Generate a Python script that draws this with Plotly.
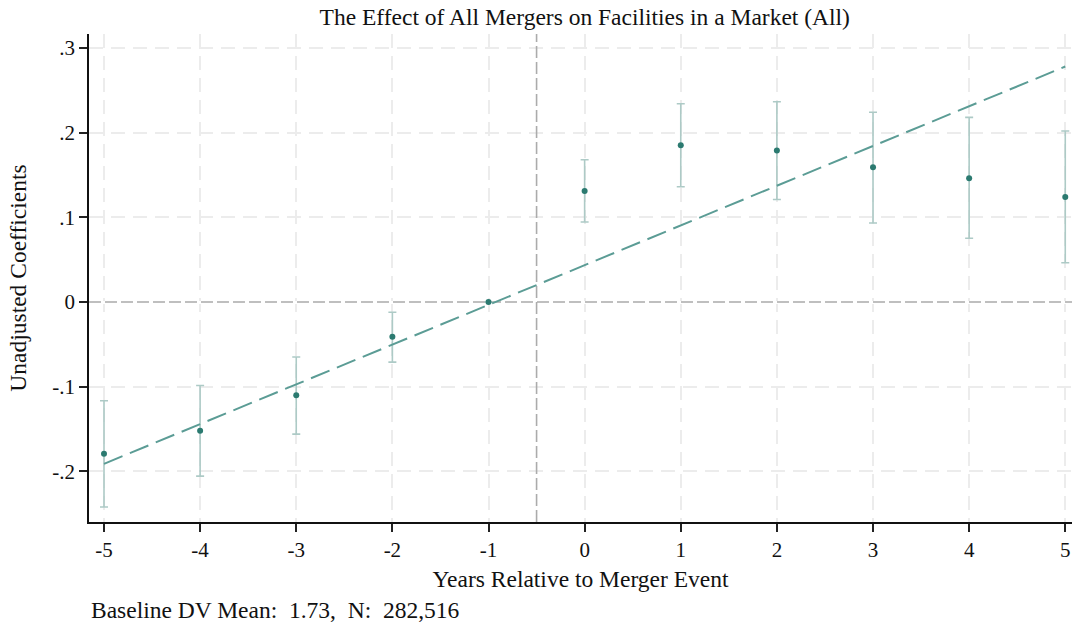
import plotly.graph_objects as go

# event-study coefficients
years = [-5, -4, -3, -2, -1, 0, 1, 2, 3, 4, 5]
coef = [-0.179, -0.152, -0.110, -0.041, 0.0, 0.131, 0.185, 0.179, 0.159, 0.146, 0.124]
ci_low = [-0.242, -0.2055, -0.156, -0.071, None, 0.0945, 0.136, 0.121, 0.0933, 0.0753, 0.0464]
ci_high = [-0.1165, -0.0985, -0.065, -0.012, None, 0.168, 0.234, 0.2365, 0.224, 0.218, 0.2019]

# linear pre-trend fit, drawn across the window
trend_x = [-5, 5]
trend_y = [-0.191, 0.278]

y_ticks = [-0.2, -0.1, 0, 0.1, 0.2, 0.3]
y_tick_labels = ["-.2", "-.1", "0", ".1", ".2", ".3"]
x_ticks = years
x_tick_labels = [str(v) for v in years]

X_RANGE = [-5.156, 5.07]
Y_RANGE = [-0.2597, 0.3164]
EVENT_LINE_X = -0.5
TITLE = "The Effect of All Mergers on Facilities in a Market (All)"
NOTE = "Baseline DV Mean:\u00a0 1.73,\u00a0 N:\u00a0 282,516"

POINT_COLOR = "#2b7a70"
TREND_COLOR = "#5b9c95"
CI_COLOR = "#adcac6"
GRID_COLOR = "#ececec"
REF_COLOR = "#ababab"
FONT = "Liberation Serif, Times New Roman, serif"
BIG = 23.5

err_plus = [None if h is None else h - c for h, c in zip(ci_high, coef)]
err_minus = [None if l is None else c - l for l, c in zip(ci_low, coef)]

fig = go.Figure()

# reference lines as traces so they sit above the grid and the white zeroline
ref_line = dict(color=REF_COLOR, width=1.6, dash="12px,4px")
fig.add_trace(go.Scatter(x=X_RANGE, y=[0, 0], mode="lines", line=ref_line,
                         hoverinfo="skip", showlegend=False))
fig.add_trace(go.Scatter(x=[EVENT_LINE_X, EVENT_LINE_X], y=Y_RANGE, mode="lines", line=ref_line,
                         hoverinfo="skip", showlegend=False))

fig.add_trace(go.Scatter(
    x=years,
    y=coef,
    mode="markers",
    marker=dict(color=POINT_COLOR, size=6),
    error_y=dict(
        type="data",
        symmetric=False,
        array=err_plus,
        arrayminus=err_minus,
        color=CI_COLOR,
        thickness=1.6,
        width=4,
    ),
    showlegend=False,
))

fig.add_trace(go.Scatter(
    x=trend_x,
    y=trend_y,
    mode="lines",
    line=dict(color=TREND_COLOR, width=2, dash="20px,8px"),
    showlegend=False,
))

fig.update_layout(
    width=1073,
    height=627,
    margin=dict(l=89, r=1, t=34, b=105),
    paper_bgcolor="white",
    plot_bgcolor="white",
    font=dict(family=FONT, size=21, color="#111111"),
    title=dict(text=TITLE, x=0.545, xanchor="center", y=0.973, yanchor="middle",
               automargin=False, font=dict(size=BIG)),
    xaxis=dict(
        range=X_RANGE,
        tickvals=x_ticks,
        ticktext=x_tick_labels,
        ticks="outside",
        ticklen=8,
        tickwidth=1.5,
        tickcolor="#222222",
        showline=True,
        linecolor="#111111",
        linewidth=1.5,
        showgrid=True,
        gridcolor=GRID_COLOR,
        gridwidth=1.5,
        griddash="14px,8px",
        zeroline=False,
        automargin=False,
        title=dict(text="Years Relative to Merger Event", standoff=10, font=dict(size=BIG)),
    ),
    yaxis=dict(
        range=Y_RANGE,
        tickvals=y_ticks,
        ticktext=y_tick_labels,
        ticks="outside",
        ticklen=8,
        tickwidth=1.5,
        tickcolor="#222222",
        showline=True,
        linecolor="#111111",
        linewidth=1.5,
        showgrid=True,
        gridcolor=GRID_COLOR,
        gridwidth=1.5,
        griddash="14px,8px",
        zeroline=True,
        zerolinecolor="white",
        zerolinewidth=3,
        automargin=False,
        title=dict(text="Unadjusted Coefficients", standoff=19, font=dict(size=BIG)),
    ),
    annotations=[dict(
        text=NOTE, xref="paper", yref="paper", x=0.0, y=-0.18,
        xanchor="left", yanchor="middle", showarrow=False, font=dict(size=BIG),
    )],
)

fig.write_html(
    "out.html",
    config={"displayModeBar": False},
    post_script="document.body.style.margin='0px';",
)
